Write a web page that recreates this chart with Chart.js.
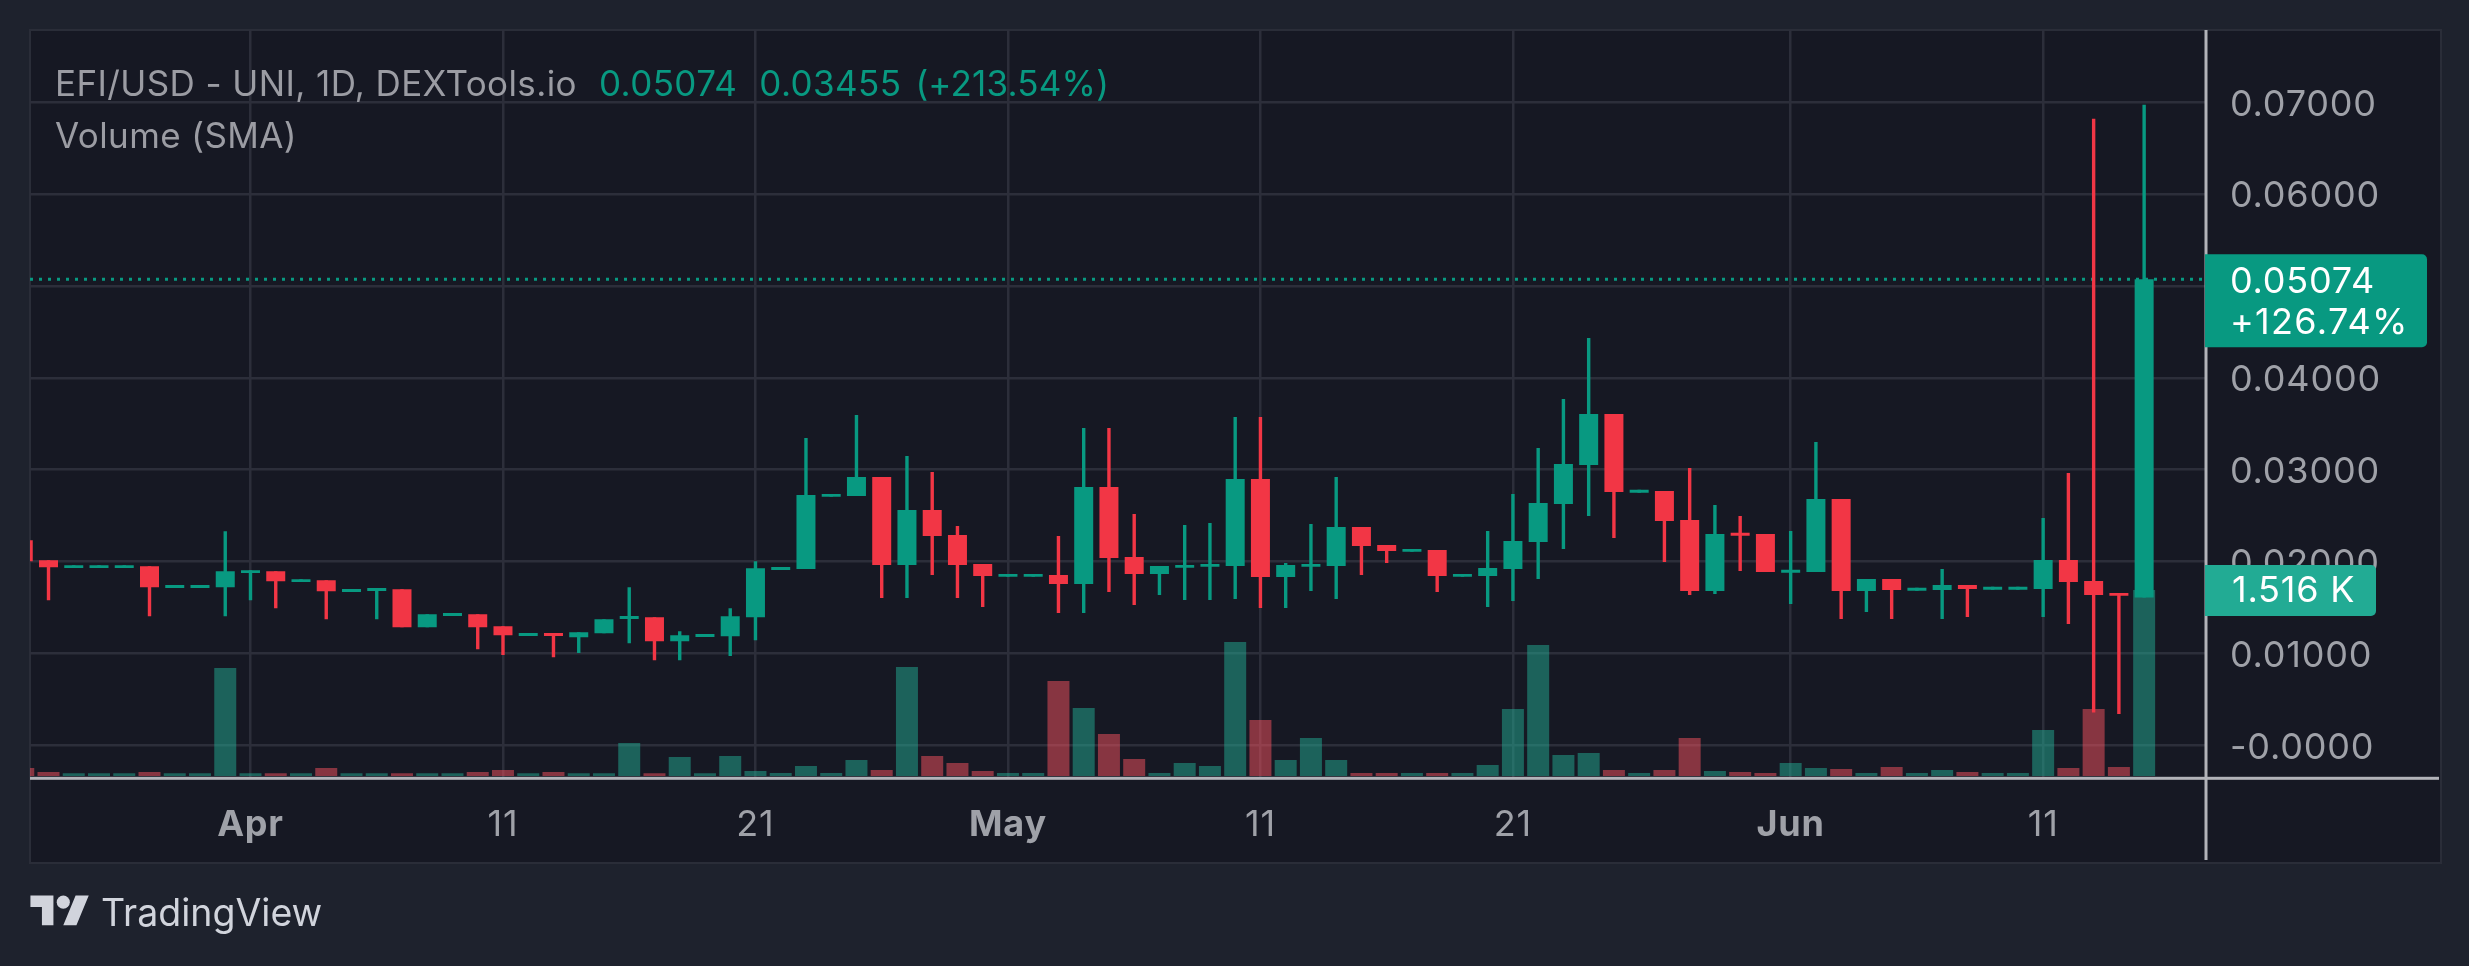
<!DOCTYPE html>
<html>
<head>
<meta charset="utf-8">
<title>EFI/USD</title>
<script src="https://cdn.jsdelivr.net/npm/chart.js@4/dist/chart.umd.js"></script>
<style>
  html, body { margin: 0; padding: 0; width: 2469px; height: 966px; overflow: hidden; background: #1e222d; font-family: Inter, sans-serif; }
  #panel { position: absolute; left: 29px; top: 29px; width: 2409px; height: 831px; background: #161823; border: 2px solid #2a2d38; }
  #marketChart { position: absolute; left: 0; top: 0; }
  .legend { position: absolute; left: 55px; font-size: 35px; letter-spacing: 0.4px; line-height: 40px; color: #9b9ca3; white-space: nowrap; }
  .legend .up { color: #089981; margin-left: 22px; }
  .legend .up.pct { margin-left: 14px; letter-spacing: 0.2px; }
  #footer { position: absolute; left: 30px; top: 889px; height: 46px; display: flex; align-items: center; color: #d1d4dc; font-size: 37.5px; }
  #footer svg { margin-right: 11px; }
</style>
</head>
<body>
<div id="panel"></div>
<canvas id="marketChart" width="2469" height="966"></canvas>
<div class="legend" style="top:63px">EFI/USD - UNI, 1D, DEXTools.io<span class="up">0.05074</span><span class="up">0.03455</span><span class="up pct">(+213.54%)</span></div>
<div class="legend" style="top:115px">Volume (SMA)</div>
<div id="footer">
  <svg width="60" height="46" viewBox="0 0 36 28"><path fill="#d1d4dc" d="M14 22H7V11H0V4h14v18zM28 22h-8l7.5-18h8L28 22z"/><circle fill="#d1d4dc" cx="20" cy="8" r="4"/></svg>
  <span>TradingView</span>
</div>
<script>
// days, Mar 23 is index 0
const firstDay = new Date(2024, 2, 23);
const categories = Array.from({ length: 85 }, (_, i) => {
    const d = new Date(firstDay.getTime() + i * 86400000);
    return d.toLocaleDateString('en-US', { month: 'short', day: 'numeric' });
});

const opens = [
    0.02232, 0.02014, 0.01929, 0.01929, 0.01929, 0.01949, 0.01712, 0.01712, 0.01721, 0.01875,
    0.01895, 0.01777, 0.01797, 0.01669, 0.01680, 0.01699, 0.01286, 0.01408, 0.01427, 0.01297,
    0.01190, 0.01222, 0.01177, 0.01221, 0.01375, 0.01395, 0.01134, 0.01180, 0.01188, 0.01395,
    0.01909, 0.01919, 0.02705, 0.02714, 0.02921, 0.01963, 0.02561, 0.02289, 0.01974, 0.01834,
    0.01834, 0.01854, 0.01756, 0.02812, 0.02050, 0.01865, 0.01932, 0.01943, 0.01952, 0.02899,
    0.01832, 0.01943, 0.01952, 0.02376, 0.02180, 0.02106, 0.02126, 0.01834, 0.01843, 0.01919,
    0.02213, 0.02627, 0.03051, 0.03606, 0.02749, 0.02768, 0.02453, 0.01680, 0.02313, 0.02300,
    0.01878, 0.01887, 0.02681, 0.01680, 0.01810, 0.01682, 0.01691, 0.01745, 0.01693, 0.01693,
    0.01701, 0.02017, 0.01789, 0.01659, 0.01610
];
const highs = [
    0.02232, 0.02014, 0.01961, 0.01961, 0.01961, 0.01949, 0.01744, 0.01744, 0.02330, 0.01907,
    0.01895, 0.01809, 0.01797, 0.01701, 0.01712, 0.01699, 0.01427, 0.01440, 0.01427, 0.01297,
    0.01222, 0.01222, 0.01232, 0.01373, 0.01721, 0.01395, 0.01243, 0.01212, 0.01493, 0.02003,
    0.01941, 0.03345, 0.02737, 0.03595, 0.02921, 0.03149, 0.02975, 0.02387, 0.01974, 0.01866,
    0.01866, 0.02278, 0.03454, 0.03454, 0.02518, 0.01952, 0.02398, 0.02420, 0.03574, 0.03574,
    0.01985, 0.02409, 0.02921, 0.02376, 0.02180, 0.02138, 0.02126, 0.01866, 0.02333, 0.02736,
    0.03236, 0.03769, 0.04433, 0.03606, 0.02781, 0.02768, 0.03018, 0.02616, 0.02496, 0.02300,
    0.02333, 0.03301, 0.02681, 0.01810, 0.01810, 0.01714, 0.01919, 0.01745, 0.01725, 0.01725,
    0.02474, 0.02964, 0.06820, 0.01659, 0.06972
];
const lows = [
    0.02003, 0.01580, 0.01929, 0.01929, 0.01929, 0.01406, 0.01712, 0.01712, 0.01406, 0.01580,
    0.01493, 0.01777, 0.01373, 0.01669, 0.01373, 0.01286, 0.01286, 0.01408, 0.01047, 0.00982,
    0.01190, 0.00960, 0.01004, 0.01221, 0.01112, 0.00927, 0.00927, 0.01180, 0.00971, 0.01145,
    0.01909, 0.01919, 0.02705, 0.02714, 0.01604, 0.01604, 0.01854, 0.01604, 0.01506, 0.01834,
    0.01834, 0.01440, 0.01440, 0.01669, 0.01527, 0.01636, 0.01582, 0.01582, 0.01593, 0.01495,
    0.01495, 0.01680, 0.01593, 0.01854, 0.01985, 0.02106, 0.01669, 0.01834, 0.01506, 0.01571,
    0.01810, 0.02137, 0.02496, 0.02257, 0.02749, 0.01995, 0.01636, 0.01647, 0.01897, 0.01887,
    0.01538, 0.01887, 0.01375, 0.01451, 0.01375, 0.01682, 0.01375, 0.01397, 0.01693, 0.01693,
    0.01397, 0.01321, 0.00356, 0.00341, 0.01610
];
const closes = [
    0.02003, 0.01938, 0.01961, 0.01961, 0.01961, 0.01721, 0.01744, 0.01744, 0.01895, 0.01907,
    0.01786, 0.01809, 0.01677, 0.01701, 0.01712, 0.01286, 0.01427, 0.01440, 0.01286, 0.01199,
    0.01222, 0.01190, 0.01232, 0.01373, 0.01407, 0.01134, 0.01199, 0.01212, 0.01406, 0.01927,
    0.01941, 0.02725, 0.02737, 0.02921, 0.01963, 0.02561, 0.02278, 0.01963, 0.01843, 0.01866,
    0.01866, 0.01756, 0.02812, 0.02039, 0.01865, 0.01952, 0.01964, 0.01975, 0.02899, 0.01832,
    0.01963, 0.01975, 0.02376, 0.02170, 0.02115, 0.02138, 0.01843, 0.01866, 0.01930, 0.02224,
    0.02638, 0.03062, 0.03606, 0.02757, 0.02781, 0.02442, 0.01680, 0.02300, 0.02281, 0.01887,
    0.01910, 0.02681, 0.01680, 0.01810, 0.01691, 0.01714, 0.01745, 0.01701, 0.01725, 0.01725,
    0.02017, 0.01778, 0.01636, 0.01627, 0.05074
];
const volumes = [
    65, 33, 22, 22, 22, 33, 22, 22, 880, 22,
    22, 22, 65, 22, 22, 22, 22, 22, 33, 49,
    22, 33, 22, 22, 269, 22, 155, 22, 163, 41,
    24, 82, 24, 130, 49, 888, 163, 106, 41, 24,
    24, 774, 554, 342, 139, 24, 106, 82, 1092, 456,
    130, 310, 130, 24, 24, 24, 24, 24, 90, 546,
    1068, 171, 187, 49, 24, 49, 310, 41, 33, 24,
    106, 65, 57, 24, 73, 24, 49, 33, 24, 24,
    375, 65, 546, 73, 1516
];

const priceTicks = [0, 0.01, 0.02, 0.03, 0.04, 0.05, 0.06, 0.07];
const dayTicks = [9, 19, 29, 39, 49, 59, 70, 80];
const dayLabels = ['Apr', '11', '21', 'May', '11', '21', 'Jun', '11'];
const lastPrice = 0.05074;
const lastVolume = 1516;

const GREEN = '#089981';
const RED = '#f23645';
const TEXT = '#9fa1a8';
const FONT = 'Inter, sans-serif';
const X_MIN = 0.267, X_MAX = 86.45;

const isUp = i => closes[i] >= opens[i];
const indexes = categories.map((_, i) => i);

// axis lines and the two value tags sit on top of everything
const overlay = {
    id: 'overlay',
    beforeDraw(chart) {
        chart.ctx.letterSpacing = '0.8px';
    },
    afterDraw(chart) {
        const ctx = chart.ctx;
        const area = chart.chartArea;
        ctx.save();
        ctx.fillStyle = '#b2b3b9';
        ctx.fillRect(area.right - 1.5, 30, 3, 830);
        ctx.fillRect(30, area.bottom - 1.5, 2409, 3);

        ctx.font = '400 36px ' + FONT;
        ctx.textBaseline = 'middle';
        ctx.textAlign = 'left';

        const py = chart.scales.y.getPixelForValue(lastPrice);
        ctx.fillStyle = GREEN;
        ctx.beginPath();
        ctx.roundRect(area.right - 1, py - 25, 222, 93, [0, 5, 5, 0]);
        ctx.fill();
        ctx.fillStyle = '#ffffff';
        ctx.fillText(lastPrice.toFixed(5), 2230, py + 3);
        ctx.letterSpacing = '1.3px';
        ctx.fillText('+126.74%', 2230, py + 44);
        ctx.letterSpacing = '0.8px';

        const vy = chart.scales.yVol.getPixelForValue(lastVolume);
        ctx.fillStyle = '#22ab94';
        ctx.beginPath();
        ctx.roundRect(area.right - 1, vy - 25, 171, 51, [0, 5, 5, 0]);
        ctx.fill();
        ctx.fillStyle = '#ffffff';
        ctx.fillText('1.516 K', 2232, vy + 1);
        ctx.restore();
    }
};

const chart = new Chart(document.getElementById('marketChart').getContext('2d'), {
    type: 'bar',
    data: {
        datasets: [
            {
                label: 'Open/Close',
                data: indexes.map(i => ({ x: i, y: [opens[i], closes[i]] })),
                backgroundColor: indexes.map(i => isUp(i) ? GREEN : RED),
                barThickness: 19,
                order: 1
            },
            {
                label: 'High/Low',
                data: indexes.map(i => ({ x: i, y: [lows[i], highs[i]] })),
                backgroundColor: indexes.map(i => isUp(i) ? GREEN : RED),
                barThickness: 3.4,
                order: 2
            },
            {
                type: 'line',
                label: 'Last price',
                data: [{ x: X_MIN, y: lastPrice }, { x: X_MAX, y: lastPrice }],
                borderColor: GREEN,
                borderWidth: 3,
                borderDash: [3, 6],
                pointRadius: 0,
                order: 3
            },
            {
                label: 'Volume',
                yAxisID: 'yVol',
                data: indexes.map(i => ({ x: i, y: volumes[i] })),
                backgroundColor: indexes.map(i => isUp(i) ? 'rgba(34, 171, 148, 0.5)' : 'rgba(247, 82, 95, 0.5)'),
                barThickness: 22,
                order: 4
            }
        ]
    },
    options: {
        responsive: false,
        animation: false,
        devicePixelRatio: 1,
        grouped: false,
        layout: { padding: { left: 30, top: 30, right: 30, bottom: 105.3 } },
        plugins: {
            legend: { display: false },
            tooltip: { enabled: false }
        },
        elements: { bar: { borderWidth: 0, inflateAmount: 0 } },
        scales: {
            x: {
                type: 'linear',
                min: X_MIN,
                max: X_MAX,
                bounds: 'data',
                offset: false,
                grid: { color: '#2c2e3a', lineWidth: 2.5, offset: false, drawTicks: false },
                border: { display: false },
                afterBuildTicks: scale => { scale.ticks = dayTicks.map(v => ({ value: v })); },
                afterFit: scale => {
                    scale.height = 82.4;
                    scale.paddingLeft = 0;
                    scale.paddingRight = 0;
                },
                ticks: {
                    autoSkip: false,
                    maxRotation: 0,
                    padding: 25.5,
                    color: TEXT,
                    font: ctx => ({
                        family: FONT,
                        size: 36,
                        weight: ctx.tick && isNaN(dayLabels[dayTicks.indexOf(ctx.tick.value)]) ? '700' : '400'
                    }),
                    callback: value => dayLabels[dayTicks.indexOf(value)]
                }
            },
            y: {
                position: 'right',
                min: -0.00359,
                max: 0.07787,
                bounds: 'data',
                grid: { color: '#2c2e3a', lineWidth: 2.5, drawTicks: false },
                border: { display: false },
                afterBuildTicks: scale => { scale.ticks = priceTicks.map(v => ({ value: v })); },
                afterFit: scale => {
                    scale.width = 233;
                    scale.paddingTop = 0;
                    scale.paddingBottom = 0;
                },
                ticks: {
                    padding: 24,
                    labelOffset: 2.5,
                    color: TEXT,
                    font: { family: FONT, size: 36, weight: '400' },
                    callback: value => value === 0 ? '-0.0000' : value.toFixed(5)
                }
            },
            yVol: {
                display: false,
                min: -18.7,
                max: 6080,
                bounds: 'data'
            }
        }
    },
    plugins: [overlay]
});
</script>
</body>
</html>
